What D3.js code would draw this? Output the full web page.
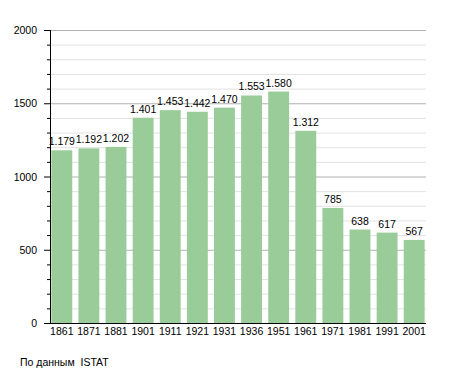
<!DOCTYPE html>
<html>
<head>
<meta charset="utf-8">
<script src="https://cdn.jsdelivr.net/npm/d3@7"></script>
<style>
  body { margin: 0; background: #fff; }
  text { font-family: "Liberation Sans", Arial, sans-serif; }
</style>
</head>
<body>
<div id="chart"></div>
<script>
// population by census year
var years = ["1861", "1871", "1881", "1901", "1911", "1921", "1931", "1936", "1951", "1961", "1971", "1981", "1991", "2001"];
var population = [1179, 1192, 1202, 1401, 1453, 1442, 1470, 1553, 1580, 1312, 785, 638, 617, 567];
var yTicks = [0, 500, 1000, 1500, 2000];

var width = 455, height = 373;
var mLeft = 50, mRight = 426, mTop = 30, mBottom = 323;
var fs = 10.5;

var svg = d3.select("#chart").append("svg")
    .attr("width", width)
    .attr("height", height);

var x = d3.scaleBand()
    .domain(years)
    .range([mLeft, mRight])
    .paddingInner(0.23)
    .paddingOuter(0.05);

var y = d3.scaleLinear()
    .domain([0, 2000])
    .range([mBottom, mTop]);

var minor = d3.range(0, 2001, 100);

// grid
svg.append("g").selectAll("line")
    .data(minor.filter(d => d % 500 !== 0))
    .enter().append("line")
    .attr("x1", mLeft).attr("x2", mRight)
    .attr("y1", d => y(d) + 0.5).attr("y2", d => y(d) + 0.5)
    .attr("stroke", "#e2e2e2");

svg.append("g").selectAll("line")
    .data(yTicks.filter(d => d > 0))
    .enter().append("line")
    .attr("x1", mLeft).attr("x2", mRight)
    .attr("y1", d => y(d) + 0.5).attr("y2", d => y(d) + 0.5)
    .attr("stroke", "#b0b0b0");

// bars
svg.append("g").selectAll("rect")
    .data(population)
    .enter().append("rect")
    .attr("x", (d, i) => x(years[i]))
    .attr("y", d => y(d))
    .attr("width", x.bandwidth())
    .attr("height", d => mBottom - y(d))
    .attr("fill", "#99cc99");

// value labels, italian thousands separator
var fmt = d3.formatLocale({decimal: ",", thousands: ".", grouping: [3], currency: ["", ""]}).format(",");
svg.append("g").selectAll("text")
    .data(population)
    .enter().append("text")
    .attr("x", (d, i) => x(years[i]) + x.bandwidth() / 2)
    .attr("y", d => y(d) - 5)
    .attr("text-anchor", "middle")
    .attr("font-size", fs)
    .attr("fill", "#000")
    .text(d => fmt(d));

// y axis
var yAxis = svg.append("g");
yAxis.selectAll("line")
    .data(minor)
    .enter().append("line")
    .attr("x1", d => d % 500 === 0 ? mLeft - 6 : mLeft - 3).attr("x2", mLeft)
    .attr("y1", d => y(d) + 0.5).attr("y2", d => y(d) + 0.5)
    .attr("stroke", "#000");
yAxis.append("line")
    .attr("x1", mLeft + 0.5).attr("x2", mLeft + 0.5)
    .attr("y1", mTop).attr("y2", mBottom + 1)
    .attr("stroke", "#000");
yAxis.selectAll("text")
    .data(yTicks)
    .enter().append("text")
    .attr("x", 37)
    .attr("y", d => y(d) + 4)
    .attr("text-anchor", "end")
    .attr("font-size", fs)
    .text(d => d);

// x axis
svg.append("line")
    .attr("x1", mLeft).attr("x2", mRight)
    .attr("y1", mBottom + 0.5).attr("y2", mBottom + 0.5)
    .attr("stroke", "#000");
svg.append("g").selectAll("text")
    .data(years)
    .enter().append("text")
    .attr("x", d => x(d) + x.bandwidth() / 2)
    .attr("y", 335)
    .attr("text-anchor", "middle")
    .attr("font-size", fs)
    .text(d => d);

svg.append("text")
    .attr("x", 20)
    .attr("y", 366)
    .attr("font-size", fs)
    .attr("xml:space", "preserve")
    .text("По данным  ISTAT");
</script>
</body>
</html>
